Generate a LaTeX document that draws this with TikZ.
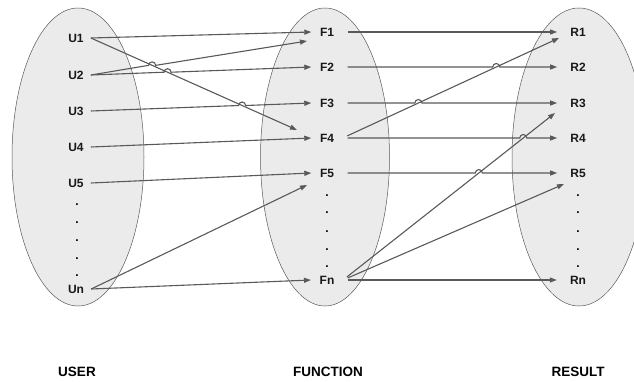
\documentclass[tikz,border=0pt]{standalone}
\usepackage{fontspec}
\setmainfont{Liberation Sans}
\usetikzlibrary{arrows.meta,intersections,calc,shapes.geometric}
\newcommand\hoparrow[4][]{%
  \path[name path=tmp] (#2) -- (#3);
  \path[name intersections={of=tmp and #4,by=ix}];
  \draw[arr,#1] (#2) -- ($(ix)+(-3.5,0)$) arc[start angle=180,end angle=0,radius=3.5pt] -- (#3);
}
\begin{document}
\begin{tikzpicture}[x=1pt,y=1pt,
  setshape/.style={ellipse,draw=black!65,line width=0.5pt,fill=black!8,inner sep=0pt},
  lbl/.style={font=\fontsize{12}{13}\selectfont\bfseries,inner ysep=0pt,text=black!90},
  ulbl/.style={lbl,inner xsep=7pt},
  flbl/.style={lbl,inner xsep=8.5pt},
  rlbl/.style={lbl,inner xsep=13pt},
  dotlbl/.style={font=\fontsize{12}{13}\selectfont\bfseries,inner sep=0pt},
  title/.style={font=\fontsize{13.5}{14}\selectfont\bfseries,inner sep=0pt},
  arr/.style={draw=black!65,line width=1.1pt,-{Triangle[length=7pt,width=5pt]}},
  fout/.style={shorten <=5pt}
]
\useasboundingbox (0,0) rectangle (634,381);

% sets
\node[setshape,minimum width=132pt,minimum height=298pt] (userset) at (78,224) {};
\node[setshape,minimum width=129pt,minimum height=298pt] (funcset) at (325,224) {};
\node[setshape,minimum width=134pt,minimum height=298pt] (resset) at (579,224) {};

% labels
\node[ulbl] (U1) at (76,343) {U1};
\node[ulbl] (U2) at (76,306) {U2};
\node[ulbl] (U3) at (76,270) {U3};
\node[ulbl] (U4) at (76,234) {U4};
\node[ulbl] (U5) at (76,198) {U5};
\node[ulbl] (Un) at (76,92) {Un};

\node[flbl] (F1) at (327,349) {F1};
\node[flbl] (F2) at (327,314) {F2};
\node[flbl] (F3) at (327,278) {F3};
\node[flbl] (F4) at (327,243) {F4};
\node[flbl] (F5) at (327,208) {F5};
\node[flbl] (Fn) at (327,101) {Fn};

\node[rlbl] (R1) at (578,349) {R1};
\node[rlbl] (R2) at (578,314) {R2};
\node[rlbl] (R3) at (578,278) {R3};
\node[rlbl] (R4) at (578,243) {R4};
\node[rlbl] (R5) at (578,208) {R5};
\node[rlbl] (Rn) at (578,101) {Rn};

\foreach \i/\y in {1/176,2/158,3/140,4/122,5/105}
  \node[dotlbl] (ud\i) at (77,\y) {.};
\foreach \i/\y in {1/185,2/168,3/149,4/131,5/114}{
  \node[dotlbl] (fd\i) at (327,\y) {.};
  \node[dotlbl] (rd\i) at (578,\y) {.};
}

\node[title] (user) at (77,9) {USER};
\node[title] (function) at (328,9) {FUNCTION};
\node[title] (result) at (578,9) {RESULT};

% free ends
\coordinate (f4a) at (297,251);
\coordinate (f1a) at (307,340);
\coordinate (f5a) at (307,196);
\coordinate (r1a) at (559,343);
\coordinate (r3a) at (555,268);
\coordinate (r5a) at (564,197);

% user -> function
\draw[arr] (U1.east) -- (F1.west);
\draw[arr,name path=d1] (U1.east) -- (f4a);
\hoparrow{U2.east}{f1a}{d1}
\hoparrow{U2.east}{F2.west}{d1}
\hoparrow{U3.east}{F3.west}{d1}
\draw[arr] (U4.east) -- (F4.west);
\draw[arr] (U5.east) -- (F5.west);
\draw[arr] (Un.east) -- (f5a);
\draw[arr] (Un.east) -- (Fn.west);

% function -> result
\draw[arr,fout] (F1.east) -- (R1.west);
\draw[arr,fout,name path=d2] (F4.east) -- (r1a);
\draw[arr,fout,name path=d3] (Fn.east) -- (r3a);
\hoparrow[fout]{F2.east}{R2.west}{d2}
\hoparrow[fout]{F3.east}{R3.west}{d2}
\hoparrow[fout]{F4.east}{R4.west}{d3}
\hoparrow[fout]{F5.east}{R5.west}{d3}
\draw[arr,fout] (Fn.east) -- (r5a);
\draw[arr,fout] (Fn.east) -- (Rn.west);
\end{tikzpicture}
\end{document}
